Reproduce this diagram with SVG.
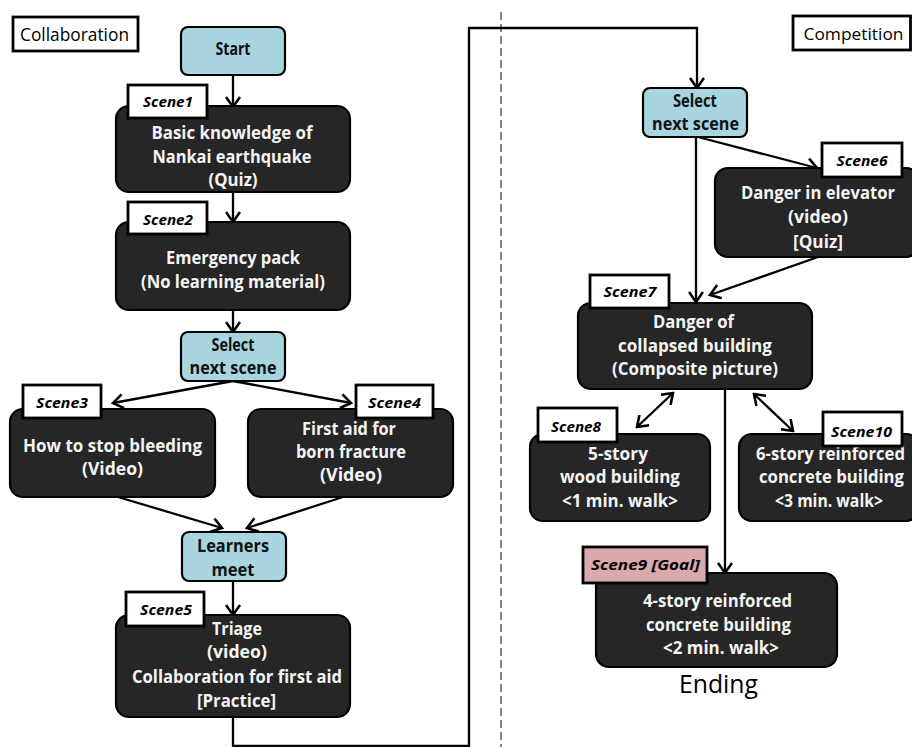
<svg xmlns="http://www.w3.org/2000/svg" width="912" height="747" viewBox="0 0 912 747">
  <style>
    .box{fill:#262626;stroke:#000;stroke-width:2.2}
    .blue{fill:#a8d5df;stroke:#000;stroke-width:2.2}
    .tag{fill:#fff;stroke:#000;stroke-width:2.8}
    .goal{fill:#d9a9ad;stroke:#000;stroke-width:2.8}
    .frame{fill:#fff;stroke:#000;stroke-width:2.8}
    .w{font-family:"Open Sans","Liberation Sans",sans-serif;font-weight:bold;font-size:17.5px;fill:#f4f4f4;text-anchor:middle}
    .k{font-family:"Open Sans","Liberation Sans",sans-serif;font-weight:bold;font-size:17px;fill:#111;text-anchor:middle}
    .s{font-family:"Open Sans","Liberation Sans",sans-serif;font-weight:bold;font-style:italic;font-size:15px;fill:#000;text-anchor:middle}
    .r{font-family:"Open Sans","Liberation Sans",sans-serif;font-size:19px;fill:#000;text-anchor:middle}
    .c{fill:none;stroke:#000;stroke-width:2.3}
  </style>
  <defs>
    <marker id="ah" viewBox="0 0 14 16" refX="12" refY="8" markerWidth="14" markerHeight="16" markerUnits="userSpaceOnUse" orient="auto-start-reverse">
      <path d="M2,1 L12,8 L2,15" fill="none" stroke="#000" stroke-width="2.6"/>
    </marker>
  </defs>

  <!-- section divider -->
  <line x1="501" y1="12" x2="501" y2="747" stroke="#444" stroke-width="1.3" stroke-dasharray="8,4"/>

  <!-- connectors -->
  <g id="connectors">
    <path class="c" d="M233,75 V107" marker-end="url(#ah)"/>
    <path class="c" d="M233,192 V222" marker-end="url(#ah)"/>
    <path class="c" d="M233,310 V332" marker-end="url(#ah)"/>
    <path class="c" d="M233,381 L113,403" marker-end="url(#ah)"/>
    <path class="c" d="M233,381 L351,403" marker-end="url(#ah)"/>
    <path class="c" d="M118,497 L222,528" marker-end="url(#ah)"/>
    <path class="c" d="M343,497 L247,528" marker-end="url(#ah)"/>
    <path class="c" d="M233,581 V615" stroke-width="3.2" marker-end="url(#ah)"/>
    <path class="c" d="M233,717 V746 H469 V28 H697 V88" marker-end="url(#ah)"/>
    <path class="c" d="M698,137 L817,168" marker-end="url(#ah)"/>
    <path class="c" d="M696,137 V302" marker-end="url(#ah)"/>
    <path class="c" d="M818,257 L710,295" marker-end="url(#ah)"/>
    <path class="c" d="M673,393 L637,427" marker-start="url(#ah)" marker-end="url(#ah)"/>
    <path class="c" d="M754,394 L793,431" marker-start="url(#ah)" marker-end="url(#ah)"/>
    <path class="c" d="M725,389 V573" marker-end="url(#ah)"/>
  </g>

  <!-- section headings -->
  <g id="collaboration">
    <rect class="frame" x="13" y="17" width="125" height="34"/>
    <text class="r" x="74.5" y="41" textLength="109" lengthAdjust="spacingAndGlyphs">Collaboration</text>
  </g>
  <g id="competition">
    <rect class="frame" x="793" y="16" width="117.5" height="34"/>
    <text class="r" x="853.5" y="40" style="font-size:17px" textLength="100" lengthAdjust="spacingAndGlyphs">Competition</text>
  </g>

  <g id="start">
    <rect class="blue" x="181" y="27" width="104" height="48" rx="7"/>
    <text class="k" x="233" y="55" textLength="35" lengthAdjust="spacingAndGlyphs">Start</text>
  </g>

  <g id="scene1">
    <rect class="box" x="116" y="106" width="234" height="86" rx="13"/>
    <text class="w" x="232" y="139" textLength="161" lengthAdjust="spacingAndGlyphs">Basic knowledge of</text>
    <text class="w" x="232" y="163" textLength="159" lengthAdjust="spacingAndGlyphs">Nankai earthquake</text>
    <text class="w" x="233" y="186" textLength="49" lengthAdjust="spacingAndGlyphs">(Quiz)</text>
    <rect class="tag" x="128" y="85" width="79" height="33"/>
    <text class="s" x="168" y="107" textLength="50" lengthAdjust="spacingAndGlyphs">Scene1</text>
  </g>

  <g id="scene2">
    <rect class="box" x="116" y="222" width="234" height="88" rx="13"/>
    <text class="w" x="233" y="264" textLength="134" lengthAdjust="spacingAndGlyphs">Emergency pack</text>
    <text class="w" x="233" y="288" textLength="184" lengthAdjust="spacingAndGlyphs">(No learning material)</text>
    <rect class="tag" x="128" y="202" width="79" height="32"/>
    <text class="s" x="168" y="225" textLength="50" lengthAdjust="spacingAndGlyphs">Scene2</text>
  </g>

  <g id="select-left">
    <rect class="blue" x="181" y="332" width="104" height="49" rx="7"/>
    <text class="k" x="233" y="351" textLength="43" lengthAdjust="spacingAndGlyphs">Select</text>
    <text class="k" x="233" y="374" textLength="87" lengthAdjust="spacingAndGlyphs">next scene</text>
  </g>

  <g id="scene3">
    <rect class="box" x="10" y="409" width="205" height="88" rx="13"/>
    <text class="w" x="112.5" y="452" textLength="179" lengthAdjust="spacingAndGlyphs">How to stop bleeding</text>
    <text class="w" x="112.5" y="475" textLength="61" lengthAdjust="spacingAndGlyphs">(Video)</text>
    <rect class="tag" x="23" y="385" width="78" height="33"/>
    <text class="s" x="62" y="408" textLength="52" lengthAdjust="spacingAndGlyphs">Scene3</text>
  </g>

  <g id="scene4">
    <rect class="box" x="248" y="409" width="205" height="88" rx="13"/>
    <text class="w" x="349" y="435" textLength="94" lengthAdjust="spacingAndGlyphs">First aid for</text>
    <text class="w" x="351" y="458" textLength="110" lengthAdjust="spacingAndGlyphs">born fracture</text>
    <text class="w" x="351" y="481" textLength="62" lengthAdjust="spacingAndGlyphs">(Video)</text>
    <rect class="tag" x="356" y="385" width="77" height="33"/>
    <text class="s" x="394.5" y="408" textLength="53" lengthAdjust="spacingAndGlyphs">Scene4</text>
  </g>

  <g id="learners-meet">
    <rect class="blue" x="182" y="532" width="104" height="49" rx="7"/>
    <text class="k" x="233" y="552" textLength="72" lengthAdjust="spacingAndGlyphs">Learners</text>
    <text class="k" x="233" y="576" textLength="43" lengthAdjust="spacingAndGlyphs">meet</text>
  </g>

  <g id="scene5">
    <rect class="box" x="116" y="615" width="234" height="102" rx="13"/>
    <text class="w" x="237" y="635" textLength="50" lengthAdjust="spacingAndGlyphs">Triage</text>
    <text class="w" x="237" y="658" textLength="60" lengthAdjust="spacingAndGlyphs">(video)</text>
    <text class="w" x="237" y="683" textLength="210" lengthAdjust="spacingAndGlyphs">Collaboration for first aid</text>
    <text class="w" x="236.5" y="707" textLength="79" lengthAdjust="spacingAndGlyphs">[Practice]</text>
    <rect class="tag" x="126" y="592" width="78" height="34"/>
    <text class="s" x="166" y="615" textLength="52" lengthAdjust="spacingAndGlyphs">Scene5</text>
  </g>

  <g id="select-right">
    <rect class="blue" x="643" y="88" width="104" height="49" rx="7"/>
    <text class="k" x="695" y="107" textLength="44" lengthAdjust="spacingAndGlyphs">Select</text>
    <text class="k" x="695.5" y="130" textLength="87" lengthAdjust="spacingAndGlyphs">next scene</text>
  </g>

  <g id="scene6">
    <rect class="box" x="715" y="168" width="204" height="89" rx="13"/>
    <text class="w" x="818" y="199" textLength="154" lengthAdjust="spacingAndGlyphs">Danger in elevator</text>
    <text class="w" x="818" y="223" textLength="60" lengthAdjust="spacingAndGlyphs">(video)</text>
    <text class="w" x="818" y="248" textLength="50" lengthAdjust="spacingAndGlyphs">[Quiz]</text>
    <rect class="tag" x="822" y="143" width="80" height="34"/>
    <text class="s" x="862" y="166" textLength="51" lengthAdjust="spacingAndGlyphs">Scene6</text>
  </g>

  <g id="scene7">
    <rect class="box" x="578" y="303" width="234" height="86" rx="13"/>
    <text class="w" x="693.5" y="328" textLength="81" lengthAdjust="spacingAndGlyphs">Danger of</text>
    <text class="w" x="695" y="352" textLength="154" lengthAdjust="spacingAndGlyphs">collapsed building</text>
    <text class="w" x="695" y="375" textLength="166" lengthAdjust="spacingAndGlyphs">(Composite picture)</text>
    <rect class="tag" x="590" y="275" width="79" height="33"/>
    <text class="s" x="630" y="297" textLength="53" lengthAdjust="spacingAndGlyphs">Scene7</text>
  </g>

  <g id="scene8">
    <rect class="box" x="530" y="434" width="180" height="87" rx="13"/>
    <text class="w" x="618" y="460" textLength="60" lengthAdjust="spacingAndGlyphs">5-story</text>
    <text class="w" x="620" y="483" textLength="120" lengthAdjust="spacingAndGlyphs">wood building</text>
    <text class="w" x="620" y="507" textLength="116" lengthAdjust="spacingAndGlyphs">&lt;1 min. walk&gt;</text>
    <rect class="tag" x="538" y="408" width="79" height="34"/>
    <text class="s" x="576" y="432" textLength="50" lengthAdjust="spacingAndGlyphs">Scene8</text>
  </g>

  <g id="scene10">
    <rect class="box" x="739" y="434" width="180" height="87" rx="13"/>
    <text class="w" x="830.5" y="460" textLength="149" lengthAdjust="spacingAndGlyphs">6-story reinforced</text>
    <text class="w" x="831.5" y="483" textLength="145" lengthAdjust="spacingAndGlyphs">concrete building</text>
    <text class="w" x="829" y="507" textLength="108" lengthAdjust="spacingAndGlyphs">&lt;3 min. walk&gt;</text>
    <rect class="tag" x="823" y="412" width="79" height="34"/>
    <text class="s" x="861.5" y="437" textLength="61" lengthAdjust="spacingAndGlyphs">Scene10</text>
  </g>

  <g id="scene9">
    <rect class="box" x="596" y="573" width="241" height="94" rx="13"/>
    <text class="w" x="717.5" y="607" textLength="149" lengthAdjust="spacingAndGlyphs">4-story reinforced</text>
    <text class="w" x="718.5" y="631" textLength="145" lengthAdjust="spacingAndGlyphs">concrete building</text>
    <text class="w" x="721" y="654" textLength="116" lengthAdjust="spacingAndGlyphs">&lt;2 min. walk&gt;</text>
    <rect class="goal" x="583" y="547" width="124" height="36"/>
    <text class="s" x="645.5" y="570" textLength="109" lengthAdjust="spacingAndGlyphs">Scene9 [Goal]</text>
    <text class="r" x="718.5" y="693" style="font-size:25px" textLength="79" lengthAdjust="spacingAndGlyphs">Ending</text>
  </g>
</svg>
